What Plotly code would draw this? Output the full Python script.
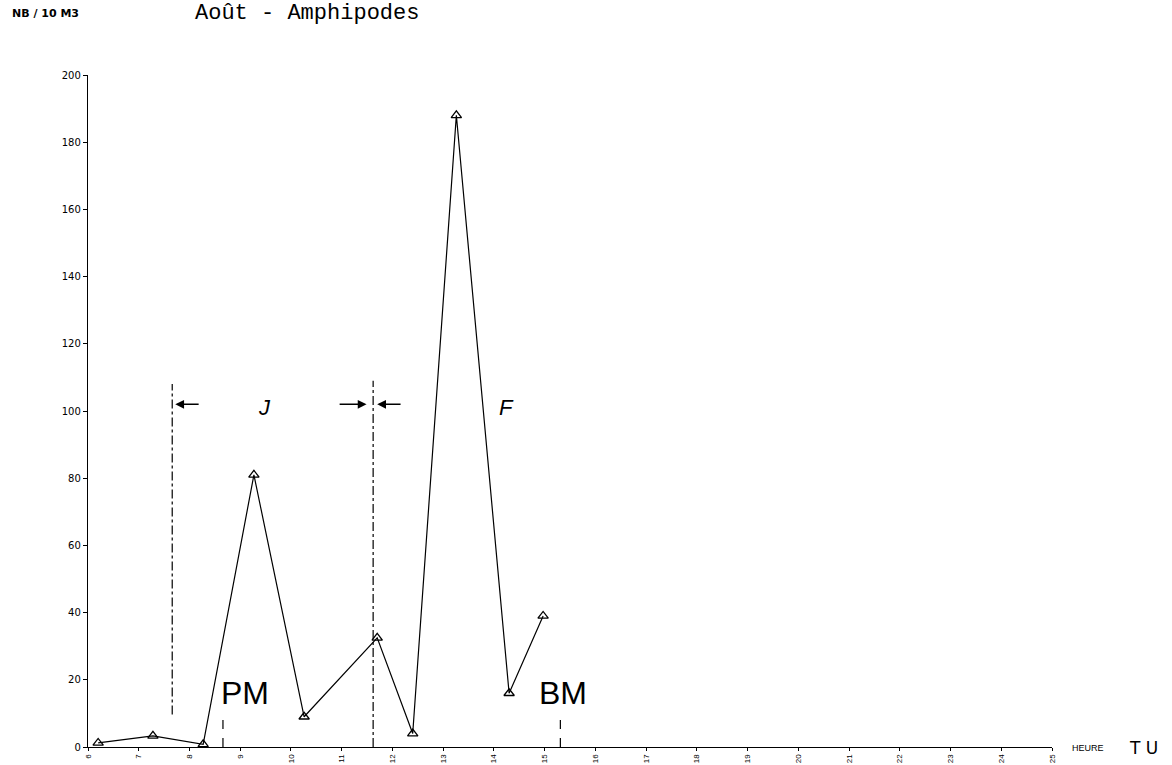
import plotly.graph_objects as go

# Sampling times (decimal hours, TU) and amphipod densities (nb / 10 m3)
heures = [6.2, 7.28, 8.27, 9.27, 10.26, 11.7, 12.4, 13.26, 14.3, 14.97]
densite = [1.2, 3.3, 0.8, 81, 9, 32.5, 4, 188, 16, 39]

# Tide marks: high water (PM) and low water (BM)
maree_heures = [8.66, 15.31]
maree_labels = ["PM", "BM"]
maree_haut = [9.5, 10.5]
maree_label_x = [9.1, 15.37]

# Period boundaries (J / F) drawn as broken vertical lines
limites_heures = [7.66, 11.62]
limites_bas = [9.7, 0]
limites_haut = [108, 109]

x_ticks = list(range(6, 26))
y_ticks = list(range(0, 201, 20))

fig = go.Figure()

fig.add_trace(go.Scatter(
    x=heures, y=densite, mode="lines+markers",
    line=dict(color="black", width=1.2),
    marker=dict(symbol="triangle-up-open", size=9, color="black",
                line=dict(width=1.3, color="black")),
    showlegend=False, cliponaxis=False,
))

for h, lo, hi in zip(limites_heures, limites_bas, limites_haut):
    fig.add_shape(type="line", xref="x", yref="y", x0=h, x1=h, y0=lo, y1=hi,
                  line=dict(color="black", width=1.2, dash="dashdot"))

for h, top, lab, lx in zip(maree_heures, maree_haut, maree_labels, maree_label_x):
    fig.add_shape(type="line", xref="x", yref="y", x0=h, x1=h, y0=0, y1=top,
                  line=dict(color="black", width=1.2, dash="dash"))
    fig.add_annotation(x=lx, y=16, xref="x", yref="y", text=lab,
                       showarrow=False, yanchor="middle", xanchor="center",
                       font=dict(family="Liberation Sans", size=32, color="black"))

# Arrows marking the period boundaries
fleches = [(8.21, 7.72), (10.93, 11.49), (12.19, 11.70)]
for x_from, x_to in fleches:
    fig.add_annotation(x=x_to, y=102, ax=x_from, ay=102, xref="x", yref="y",
                       axref="x", ayref="y", text="", showarrow=True,
                       arrowhead=2, arrowsize=1.1, arrowwidth=1.6, arrowcolor="black")

for lab, xh in [("J", 9.47), ("F", 14.24)]:
    fig.add_annotation(x=xh, y=101, xref="x", yref="y", text="<i>%s</i>" % lab,
                       showarrow=False,
                       font=dict(family="Liberation Sans", size=22, color="black"))

fig.update_layout(
    width=1172, height=765,
    margin=dict(l=88, r=120, t=75, b=18),
    paper_bgcolor="white", plot_bgcolor="white",
    font=dict(family="Liberation Sans", color="black"),
    xaxis=dict(range=[6, 25], tickvals=x_ticks, ticktext=[str(v) for v in x_ticks],
               tickangle=-90, showgrid=False, zeroline=False, showline=True,
               linecolor="black", linewidth=1.3, ticks="outside", ticklen=3,
               tickcolor="black", tickfont=dict(size=8), automargin=False),
    yaxis=dict(range=[0, 200], tickvals=y_ticks, ticktext=[str(v) for v in y_ticks],
               showgrid=False, zeroline=False, showline=True,
               linecolor="black", linewidth=1.3, ticks="outside", ticklen=4,
               tickcolor="black", tickfont=dict(family="DejaVu Sans", size=10),
               automargin=False),
)

# Header and axis-unit texts placed in pixel-like paper coordinates
def px(x, y):
    w, h = 1172 - 88 - 120, 765 - 75 - 18
    return (x - 88) / w, (747 - y) / h

for text, (x, y), size, fam, anchor in [
    ("<b>NB / 10 M3</b>", (10, 14), 11, "DejaVu Sans", "left"),
    ("Août - Amphipodes", (193, 13), 22, "Liberation Mono", "left"),
    ("HEURE", (1070, 748), 9, "Liberation Sans", "left"),
    ("T U", (1127, 748), 17, "DejaVu Sans", "left"),
]:
    xp, yp = px(x, y)
    fig.add_annotation(x=xp, y=yp, xref="paper", yref="paper", text=text,
                       showarrow=False, xanchor=anchor, yanchor="middle",
                       font=dict(family=fam, size=size, color="black"))

fig.write_html("out.html")
